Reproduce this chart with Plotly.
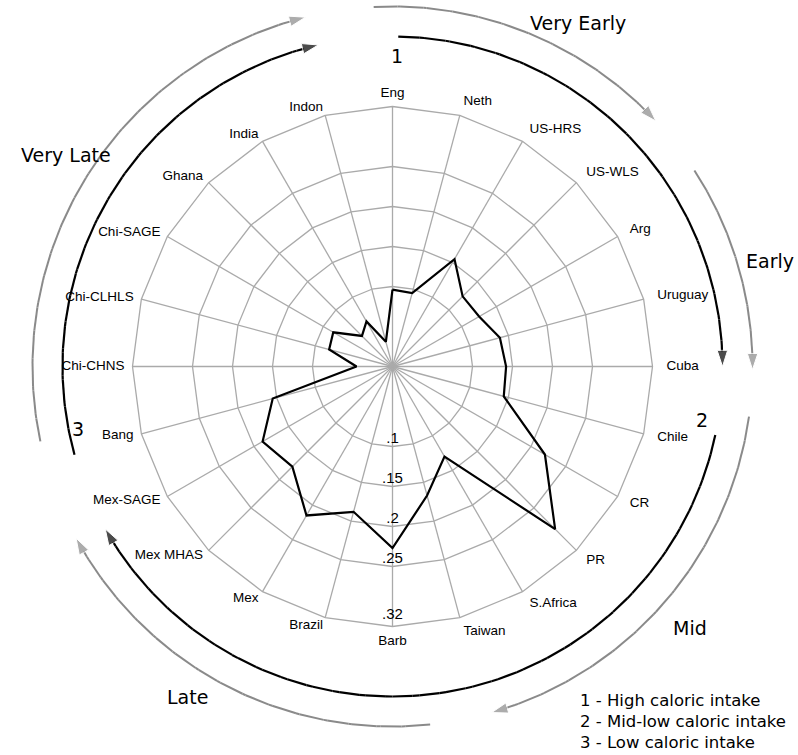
import numpy as np
import plotly.graph_objects as go

# ---------------- data ----------------
categories = ["Eng", "Neth", "US-HRS", "US-WLS", "Arg", "Uruguay", "Cuba", "Chile",
              "CR", "PR", "S.Africa", "Taiwan", "Barb", "Brazil", "Mex", "Mex MHAS",
              "Mex-SAGE", "Bang", "Chi-CHNS", "Chi-CLHLS", "Chi-SAGE", "Ghana",
              "India", "Indon"]
values = [0.096, 0.095, 0.155, 0.124, 0.125, 0.139, 0.142, 0.144,
          0.220, 0.2875, 0.130, 0.167, 0.227, 0.188, 0.215, 0.177,
          0.1875, 0.155, 0.045, 0.082, 0.0855, 0.054, 0.065, 0.032]

radial_ticks = [0.1, 0.15, 0.2, 0.25, 0.32]
radial_tick_labels = [".1", ".15", ".2", ".25", ".32"]

phase_names = ["Very Early", "Early", "Mid", "Late", "Very Late"]
phase_spans = [(-3, 47), (57, 90.5), (98, 164), (174, 241.5), (258, 346)]   # degrees, clockwise from top
group_names = ["1", "2", "3"]
group_spans = [(1, 90), (102, 240.5), (254.5, 347)]
legend_lines = ["1 - High caloric intake", "2 - Mid-low caloric intake", "3 - Low caloric intake"]

# ---------------- layout constants ----------------
W, H = 798, 755
CX, CY = 392.5, 366.5       # centre of the radar (pixels)
R_PLOT = 260                # outer radius of the radar (pixels)
R_MAX = 0.325               # radial range maximum
R_LAB = 300                 # radius of the (invisible) label subplot, in pixels
R_GROUP = 330               # black arcs
R_PHASE = 360               # gray arcs
GRID = "#aaaaaa"
GRAY_ARC = "#8a8a8a"


def domain(r):
    return dict(x=[(CX - r) / W, (CX + r) / W], y=[1 - (CY + r) / H, 1 - (CY - r) / H])


fig = go.Figure()

# radar line
fig.add_trace(go.Scatterpolar(
    r=values + values[:1], theta=categories + categories[:1],
    mode="lines", line=dict(color="black", width=2.2),
    hoverinfo="skip", showlegend=False))

# radial tick labels along the "Barb" spoke
fig.add_trace(go.Scatterpolar(
    r=radial_ticks, theta=["Barb"] * len(radial_ticks), mode="text",
    text=radial_tick_labels, textposition="top center",
    textfont=dict(family="Liberation Sans, Arial", size=15, color="black"),
    hoverinfo="skip", showlegend=False))

# category labels just outside the outer polygon (pixel-scaled helper subplot)
n = len(categories)
lab_r, lab_pos = [], []
for i in range(n):
    ang = 360.0 * i / n
    if ang == 0:
        lab_pos.append("top center"); lab_r.append(266)
    elif ang == 180:
        lab_pos.append("bottom center"); lab_r.append(268)
    elif ang < 180:
        lab_pos.append("middle right"); lab_r.append(274)
    else:
        lab_pos.append("middle left"); lab_r.append(268)
fig.add_trace(go.Scatterpolar(
    r=lab_r, theta=categories, mode="text", text=categories, textposition=lab_pos,
    cliponaxis=False, subplot="polar2",
    textfont=dict(family="Liberation Sans, Arial", size=13.5, color="black"),
    hoverinfo="skip", showlegend=False))


def arc_xy(r, a0, a1, n=120):
    t = np.radians(np.linspace(a0, a1, n))
    return CX + r * np.sin(t), CY - r * np.cos(t)


def add_arc(r, span, color, width, size):
    x, y = arc_xy(r, *span)
    sizes = [0] * (len(x) - 1) + [size]
    fig.add_trace(go.Scatter(
        x=x, y=y, mode="lines+markers",
        line=dict(color=color, width=width),
        marker=dict(symbol="arrow", size=sizes, color=color, angleref="previous"),
        hoverinfo="skip", showlegend=False, xaxis="x", yaxis="y"))


for span in phase_spans:
    add_arc(R_PHASE, span, GRAY_ARC, 2, 17)
for span in group_spans:
    add_arc(R_GROUP, span, "black", 2.2, 17)

big_font = dict(family="DejaVu Sans, Verdana", size=19, color="black")
phase_pos = [(578, 23), (770, 261), (690, 628), (187, 697), (66, 155)]
for name, (px, py) in zip(phase_names, phase_pos):
    fig.add_annotation(x=px, y=py, xref="x", yref="y", text=name, showarrow=False,
                       font=big_font, xanchor="center", yanchor="middle")

group_pos = [(397, 56), (702, 420), (78, 429)]
for name, (px, py) in zip(group_names, group_pos):
    fig.add_annotation(x=px, y=py, xref="x", yref="y", text=name, showarrow=False,
                       font=big_font, xanchor="center", yanchor="middle")

for i, line in enumerate(legend_lines):
    fig.add_annotation(x=578, y=700 + 21 * i, xref="x", yref="y", text=line,
                       showarrow=False, xanchor="left", yanchor="middle",
                       font=dict(family="DejaVu Sans, Verdana", size=16.5, color="black"))

ang_common = dict(rotation=90, direction="clockwise", type="category",
                  categoryorder="array", categoryarray=categories)
fig.update_layout(
    width=W, height=H, margin=dict(l=0, r=0, t=0, b=0),
    paper_bgcolor="white", plot_bgcolor="rgba(0,0,0,0)",
    template="none", showlegend=False,
    xaxis=dict(range=[0, W], domain=[0, 1], visible=False, fixedrange=True),
    yaxis=dict(range=[H, 0], domain=[0, 1], visible=False, fixedrange=True),
    polar=dict(
        domain=domain(R_PLOT),
        bgcolor="rgba(0,0,0,0)",
        gridshape="linear",
        radialaxis=dict(range=[0, R_MAX], tickvals=radial_ticks[:4], showticklabels=False,
                        ticks="", showline=False, gridcolor=GRID, gridwidth=1.3),
        angularaxis=dict(**ang_common, showline=True, linecolor=GRID, linewidth=1.3,
                         gridcolor=GRID, gridwidth=1.3, ticks="", showticklabels=False),
    ),
    polar2=dict(
        domain=domain(R_LAB),
        bgcolor="rgba(0,0,0,0)",
        radialaxis=dict(range=[0, R_LAB], showticklabels=False, ticks="", showline=False,
                        showgrid=False),
        angularaxis=dict(**ang_common, showline=False, showgrid=False, ticks="",
                         showticklabels=False),
    ),
)

fig.write_html("out.html",
               config={"displayModeBar": False, "staticPlot": True},
               post_script="document.body.style.margin='0px';document.body.style.overflow='hidden';")
